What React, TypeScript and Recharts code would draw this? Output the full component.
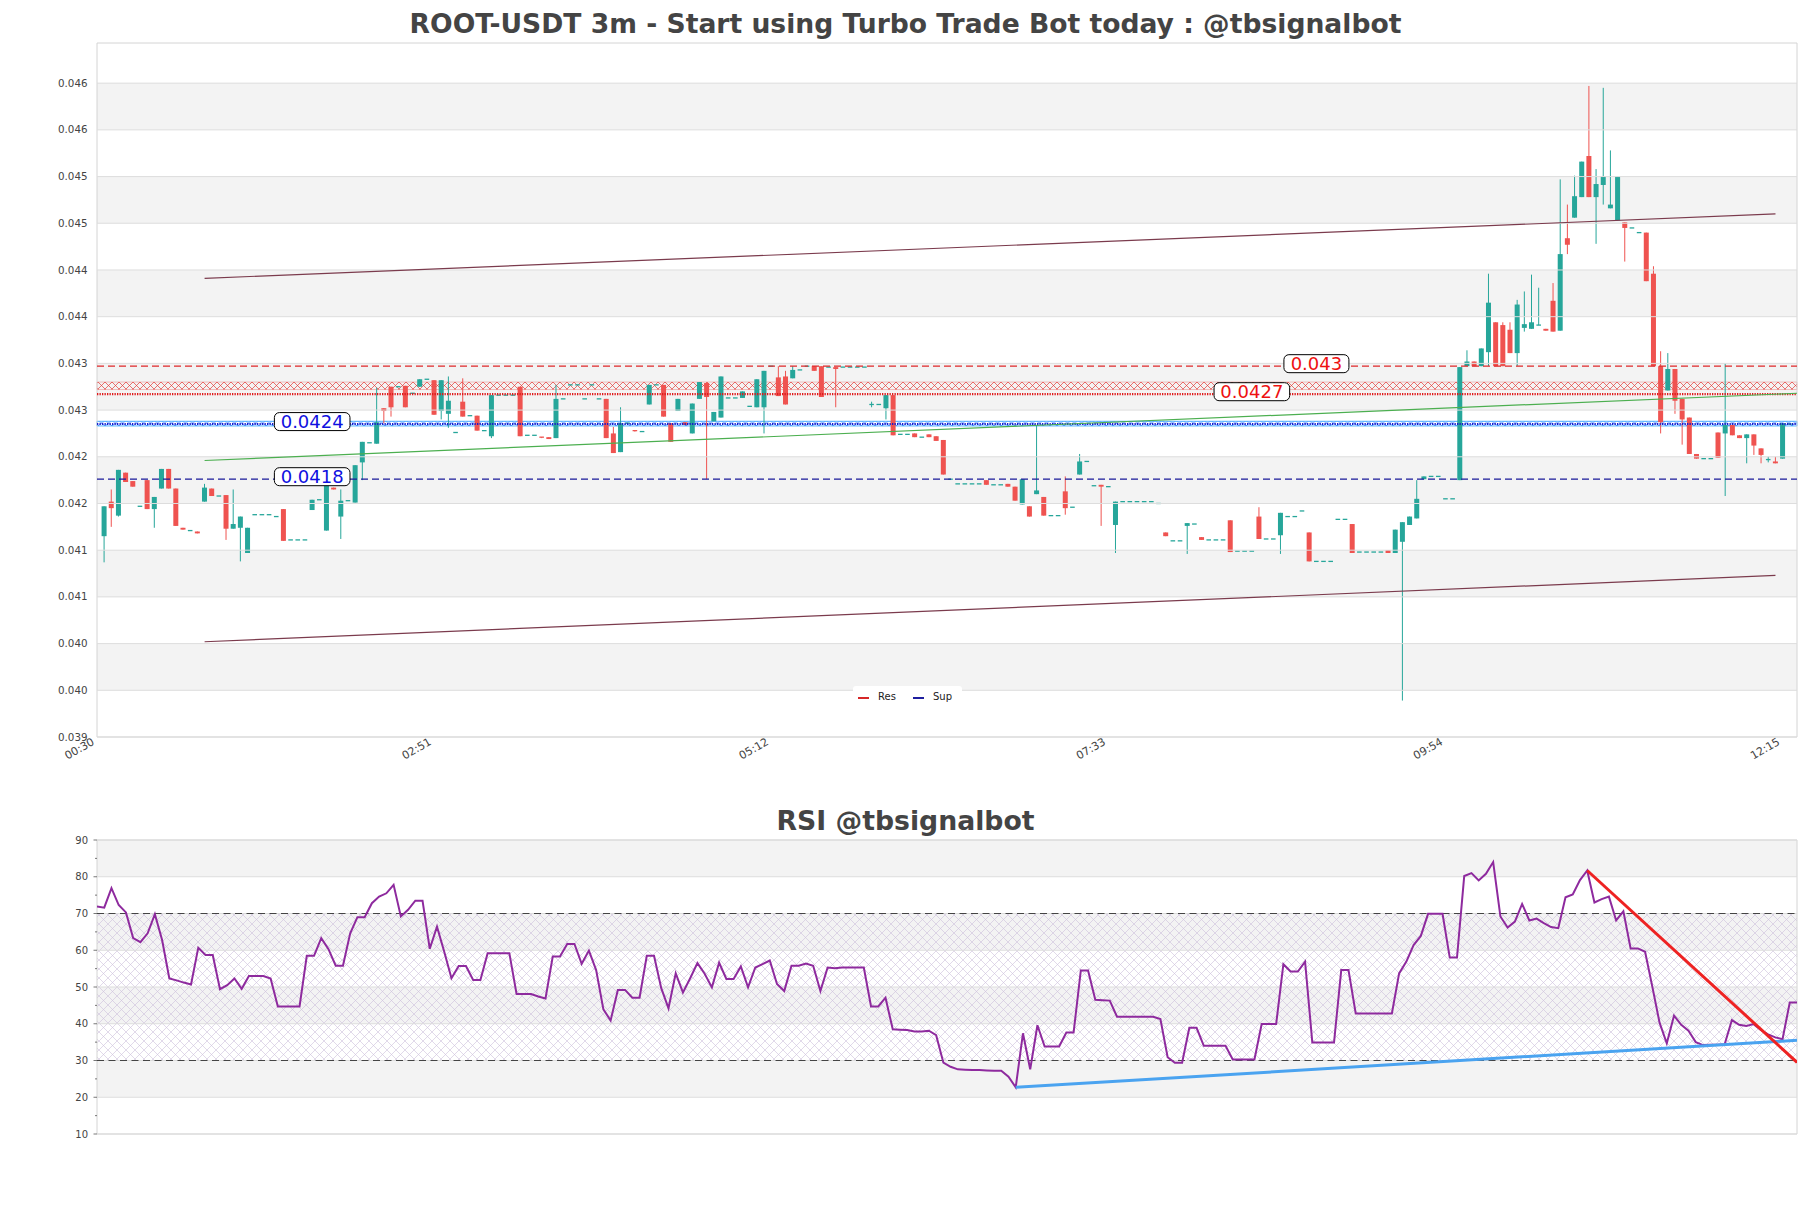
import React from 'react';
import { ComposedChart, Bar, Line, XAxis, YAxis, ReferenceLine, ReferenceArea, ReferenceDot } from 'recharts';

// candles: 3m ROOT-USDT, index 1..236 (00:33 .. 12:18)
const opens = [
  0.04115, 0.04152, 0.04137, 0.04183, 0.04174, 0.04147, 0.04175, 0.04144, 0.04166, 0.04187,
  0.04166, 0.04124, 0.04121, 0.04120, 0.04152, 0.04166, 0.04158, 0.04159, 0.04123, 0.04124,
  0.04097, 0.04138, 0.04138, 0.04138, 0.04136, 0.04144, 0.04111, 0.04111, 0.04111, 0.04143,
  0.04154, 0.04121, 0.04167, 0.04136, 0.04153, 0.04151, 0.04194, 0.04215, 0.04214, 0.04252,
  0.04275, 0.04275, 0.04276, 0.04268, 0.04275, 0.04283, 0.04282, 0.04249, 0.04246, 0.04226,
  0.04259, 0.04244, 0.04244, 0.04228, 0.04222, 0.04266, 0.04266, 0.04266, 0.04275, 0.04223,
  0.04223, 0.04221, 0.04221, 0.04220, 0.04262, 0.04277, 0.04277, 0.04262, 0.04277, 0.04262,
  0.04262, 0.04225, 0.04205, 0.04236, 0.04228, 0.04227, 0.04256, 0.04277, 0.04277, 0.04236,
  0.04249, 0.04237, 0.04225, 0.04262, 0.04279, 0.04238, 0.04242, 0.04263, 0.04263, 0.04263,
  0.04254, 0.04253, 0.04253, 0.04297, 0.04285, 0.04286, 0.04284, 0.04293, 0.04297, 0.04297,
  0.04297, 0.04296, 0.04296, 0.04296, 0.04296, 0.04296, 0.04296, 0.04256, 0.04256, 0.04252,
  0.04266, 0.04224, 0.04224, 0.04225, 0.04221, 0.04224, 0.04222, 0.04218, 0.04176, 0.04171,
  0.04171, 0.04171, 0.04171, 0.04175, 0.04170, 0.04170, 0.04171, 0.04168, 0.04149, 0.04147,
  0.04160, 0.04157, 0.04137, 0.04137, 0.04163, 0.04146, 0.04181, 0.04195, 0.04169, 0.04170,
  0.04168, 0.04127, 0.04152, 0.04152, 0.04152, 0.04152, 0.04152, 0.04150, 0.04119, 0.04110,
  0.04110, 0.04126, 0.04128, 0.04114, 0.04111, 0.04111, 0.04111, 0.04132, 0.04099, 0.04099,
  0.04099, 0.04136, 0.04112, 0.04112, 0.04116, 0.04136, 0.04136, 0.04142, 0.04119, 0.04088,
  0.04088, 0.04088, 0.04133, 0.04133, 0.04128, 0.04098, 0.04098, 0.04098, 0.04098, 0.04100,
  0.04097, 0.04109, 0.04127, 0.04134, 0.04176, 0.04179, 0.04179, 0.04155, 0.04155, 0.04175,
  0.04297, 0.04302, 0.04297, 0.04312, 0.04344, 0.04341, 0.04336, 0.04311, 0.04338, 0.04337,
  0.04341, 0.04337, 0.04367, 0.04335, 0.04434, 0.04456, 0.04478, 0.04522, 0.04478, 0.04491,
  0.04466, 0.04453, 0.04451, 0.04445, 0.04440, 0.04440, 0.04396, 0.04297, 0.04271, 0.04294,
  0.04262, 0.04242, 0.04203, 0.04198, 0.04198, 0.04226, 0.04225, 0.04234, 0.04223, 0.04220,
  0.04224, 0.04209, 0.04197, 0.04195, 0.04198, 0.04235,
];
const highs = [
  0.04147, 0.04165, 0.04186, 0.04183, 0.04174, 0.04147, 0.04175, 0.04157, 0.04187, 0.04187,
  0.04166, 0.04124, 0.04121, 0.04120, 0.04171, 0.04166, 0.04158, 0.04159, 0.04165, 0.04136,
  0.04124, 0.04138, 0.04138, 0.04138, 0.04136, 0.04144, 0.04111, 0.04111, 0.04111, 0.04154,
  0.04154, 0.04170, 0.04167, 0.04165, 0.04153, 0.04191, 0.04216, 0.04215, 0.04274, 0.04252,
  0.04275, 0.04275, 0.04276, 0.04268, 0.04283, 0.04283, 0.04282, 0.04282, 0.04286, 0.04226,
  0.04284, 0.04244, 0.04244, 0.04228, 0.04266, 0.04266, 0.04266, 0.04266, 0.04275, 0.04223,
  0.04223, 0.04221, 0.04221, 0.04277, 0.04262, 0.04277, 0.04277, 0.04262, 0.04277, 0.04262,
  0.04262, 0.04232, 0.04253, 0.04236, 0.04228, 0.04227, 0.04277, 0.04277, 0.04277, 0.04236,
  0.04262, 0.04237, 0.04257, 0.04280, 0.04279, 0.04248, 0.04286, 0.04263, 0.04263, 0.04270,
  0.04254, 0.04283, 0.04292, 0.04297, 0.04297, 0.04292, 0.04297, 0.04293, 0.04297, 0.04297,
  0.04297, 0.04296, 0.04296, 0.04296, 0.04296, 0.04296, 0.04296, 0.04259, 0.04256, 0.04266,
  0.04266, 0.04224, 0.04224, 0.04225, 0.04221, 0.04224, 0.04222, 0.04218, 0.04176, 0.04171,
  0.04171, 0.04171, 0.04171, 0.04175, 0.04170, 0.04170, 0.04171, 0.04168, 0.04176, 0.04147,
  0.04233, 0.04157, 0.04137, 0.04137, 0.04179, 0.04146, 0.04203, 0.04195, 0.04169, 0.04170,
  0.04168, 0.04152, 0.04152, 0.04152, 0.04152, 0.04152, 0.04152, 0.04150, 0.04119, 0.04110,
  0.04110, 0.04129, 0.04128, 0.04114, 0.04111, 0.04111, 0.04111, 0.04132, 0.04099, 0.04099,
  0.04099, 0.04146, 0.04112, 0.04112, 0.04140, 0.04136, 0.04136, 0.04142, 0.04119, 0.04088,
  0.04088, 0.04088, 0.04133, 0.04133, 0.04128, 0.04098, 0.04098, 0.04098, 0.04098, 0.04100,
  0.04122, 0.04130, 0.04136, 0.04175, 0.04179, 0.04179, 0.04179, 0.04155, 0.04155, 0.04296,
  0.04314, 0.04302, 0.04316, 0.04396, 0.04344, 0.04344, 0.04344, 0.04368, 0.04377, 0.04395,
  0.04381, 0.04337, 0.04386, 0.04497, 0.04470, 0.04501, 0.04516, 0.04597, 0.04508, 0.04595,
  0.04528, 0.04500, 0.04451, 0.04445, 0.04440, 0.04440, 0.04404, 0.04313, 0.04311, 0.04294,
  0.04262, 0.04242, 0.04203, 0.04198, 0.04198, 0.04226, 0.04300, 0.04234, 0.04223, 0.04224,
  0.04224, 0.04209, 0.04200, 0.04200, 0.04236, 0.04235,
];
const lows = [
  0.04087, 0.04125, 0.04136, 0.04173, 0.04168, 0.04147, 0.04144, 0.04124, 0.04166, 0.04166,
  0.04126, 0.04122, 0.04121, 0.04118, 0.04152, 0.04158, 0.04158, 0.04111, 0.04123, 0.04088,
  0.04097, 0.04138, 0.04138, 0.04138, 0.04136, 0.04110, 0.04111, 0.04111, 0.04111, 0.04143,
  0.04154, 0.04121, 0.04165, 0.04112, 0.04153, 0.04151, 0.04175, 0.04215, 0.04214, 0.04236,
  0.04243, 0.04275, 0.04253, 0.04268, 0.04275, 0.04283, 0.04245, 0.04240, 0.04231, 0.04226,
  0.04243, 0.04244, 0.04228, 0.04228, 0.04220, 0.04266, 0.04266, 0.04266, 0.04222, 0.04223,
  0.04223, 0.04220, 0.04219, 0.04220, 0.04262, 0.04277, 0.04277, 0.04262, 0.04277, 0.04262,
  0.04220, 0.04204, 0.04205, 0.04236, 0.04227, 0.04227, 0.04256, 0.04277, 0.04243, 0.04216,
  0.04249, 0.04234, 0.04225, 0.04262, 0.04176, 0.04238, 0.04242, 0.04263, 0.04263, 0.04263,
  0.04254, 0.04253, 0.04225, 0.04297, 0.04265, 0.04256, 0.04284, 0.04293, 0.04297, 0.04292,
  0.04264, 0.04296, 0.04253, 0.04296, 0.04296, 0.04296, 0.04296, 0.04253, 0.04256, 0.04240,
  0.04223, 0.04224, 0.04224, 0.04221, 0.04221, 0.04221, 0.04217, 0.04181, 0.04176, 0.04171,
  0.04171, 0.04171, 0.04171, 0.04170, 0.04170, 0.04170, 0.04168, 0.04153, 0.04149, 0.04136,
  0.04160, 0.04137, 0.04137, 0.04137, 0.04138, 0.04146, 0.04181, 0.04195, 0.04169, 0.04126,
  0.04168, 0.04097, 0.04152, 0.04152, 0.04152, 0.04152, 0.04152, 0.04150, 0.04115, 0.04110,
  0.04110, 0.04096, 0.04128, 0.04111, 0.04111, 0.04111, 0.04111, 0.04098, 0.04099, 0.04099,
  0.04099, 0.04112, 0.04112, 0.04112, 0.04096, 0.04136, 0.04136, 0.04142, 0.04088, 0.04088,
  0.04088, 0.04088, 0.04133, 0.04133, 0.04097, 0.04098, 0.04098, 0.04098, 0.04098, 0.04097,
  0.04097, 0.03939, 0.04127, 0.04134, 0.04176, 0.04179, 0.04179, 0.04155, 0.04155, 0.04175,
  0.04297, 0.04297, 0.04297, 0.04297, 0.04297, 0.04297, 0.04311, 0.04297, 0.04334, 0.04337,
  0.04341, 0.04335, 0.04334, 0.04335, 0.04417, 0.04456, 0.04478, 0.04478, 0.04428, 0.04470,
  0.04466, 0.04453, 0.04409, 0.04445, 0.04440, 0.04388, 0.04297, 0.04225, 0.04271, 0.04246,
  0.04213, 0.04203, 0.04198, 0.04198, 0.04198, 0.04199, 0.04158, 0.04223, 0.04220, 0.04193,
  0.04202, 0.04193, 0.04194, 0.04193, 0.04198, 0.04235,
];
const closes = [
  0.04147, 0.04145, 0.04186, 0.04173, 0.04168, 0.04147, 0.04144, 0.04157, 0.04187, 0.04166,
  0.04126, 0.04122, 0.04121, 0.04118, 0.04167, 0.04158, 0.04158, 0.04123, 0.04128, 0.04136,
  0.04124, 0.04138, 0.04138, 0.04138, 0.04136, 0.04110, 0.04111, 0.04111, 0.04111, 0.04154,
  0.04154, 0.04170, 0.04165, 0.04153, 0.04153, 0.04191, 0.04216, 0.04215, 0.04237, 0.04249,
  0.04253, 0.04275, 0.04253, 0.04268, 0.04283, 0.04283, 0.04245, 0.04282, 0.04260, 0.04226,
  0.04243, 0.04244, 0.04228, 0.04228, 0.04266, 0.04266, 0.04266, 0.04266, 0.04222, 0.04223,
  0.04223, 0.04220, 0.04219, 0.04262, 0.04262, 0.04277, 0.04277, 0.04262, 0.04277, 0.04262,
  0.04220, 0.04204, 0.04236, 0.04236, 0.04227, 0.04227, 0.04277, 0.04277, 0.04243, 0.04216,
  0.04262, 0.04234, 0.04257, 0.04280, 0.04264, 0.04248, 0.04286, 0.04263, 0.04263, 0.04270,
  0.04254, 0.04283, 0.04292, 0.04297, 0.04265, 0.04256, 0.04293, 0.04293, 0.04297, 0.04292,
  0.04264, 0.04296, 0.04294, 0.04296, 0.04296, 0.04296, 0.04296, 0.04256, 0.04256, 0.04266,
  0.04223, 0.04224, 0.04224, 0.04221, 0.04221, 0.04221, 0.04217, 0.04181, 0.04176, 0.04171,
  0.04171, 0.04171, 0.04171, 0.04170, 0.04170, 0.04170, 0.04168, 0.04153, 0.04176, 0.04136,
  0.04164, 0.04137, 0.04137, 0.04137, 0.04145, 0.04146, 0.04195, 0.04195, 0.04169, 0.04168,
  0.04168, 0.04152, 0.04152, 0.04152, 0.04152, 0.04152, 0.04152, 0.04150, 0.04115, 0.04110,
  0.04110, 0.04129, 0.04128, 0.04111, 0.04111, 0.04111, 0.04111, 0.04098, 0.04099, 0.04099,
  0.04099, 0.04112, 0.04112, 0.04112, 0.04140, 0.04136, 0.04136, 0.04142, 0.04088, 0.04088,
  0.04088, 0.04088, 0.04133, 0.04133, 0.04097, 0.04098, 0.04098, 0.04098, 0.04098, 0.04097,
  0.04122, 0.04130, 0.04136, 0.04155, 0.04179, 0.04179, 0.04179, 0.04155, 0.04155, 0.04296,
  0.04302, 0.04297, 0.04316, 0.04365, 0.04297, 0.04297, 0.04311, 0.04363, 0.04342, 0.04344,
  0.04341, 0.04335, 0.04334, 0.04417, 0.04427, 0.04479, 0.04516, 0.04478, 0.04492, 0.04500,
  0.04470, 0.04500, 0.04445, 0.04445, 0.04440, 0.04388, 0.04297, 0.04237, 0.04294, 0.04260,
  0.04240, 0.04203, 0.04198, 0.04198, 0.04198, 0.04199, 0.04234, 0.04223, 0.04220, 0.04224,
  0.04212, 0.04202, 0.04197, 0.04193, 0.04236, 0.04235,
];

// RSI for the same candles
const rsiValues = [
  71.9, 71.6, 76.9, 72.3, 70.3, 63.3, 62.2, 64.6, 69.8, 62.8,
  52.3, 51.8, 51.2, 50.7, 60.7, 58.7, 58.7, 49.4, 50.5, 52.3,
  49.5, 53.0, 53.0, 53.0, 52.3, 44.7, 44.7, 44.7, 44.7, 58.5,
  58.5, 63.3, 60.3, 55.8, 55.8, 64.6, 69.0, 69.0, 72.8, 74.6,
  75.5, 77.8, 69.2, 71.0, 73.5, 73.5, 60.4, 66.4, 59.6, 52.4,
  55.7, 55.7, 51.9, 51.9, 59.2, 59.2, 59.2, 59.2, 48.1, 48.1,
  48.1, 47.4, 46.9, 58.3, 58.3, 61.7, 61.7, 56.3, 59.9, 54.6,
  43.9, 40.9, 49.2, 49.2, 47.1, 47.1, 58.5, 58.5, 49.7, 44.2,
  53.7, 48.5, 52.4, 56.5, 53.6, 49.9, 56.6, 52.2, 52.2, 55.6,
  49.9, 55.3, 56.2, 57.2, 50.8, 48.9, 55.8, 55.8, 56.4, 55.8,
  48.9, 55.3, 55.1, 55.3, 55.3, 55.3, 55.3, 44.7, 44.7, 47.1,
  38.5, 38.4, 38.3, 37.9, 37.9, 38.1, 36.9, 29.4, 28.3, 27.6,
  27.5, 27.4, 27.4, 27.3, 27.2, 27.2, 25.6, 22.7, 37.4, 27.6,
  39.6, 33.8, 33.8, 33.8, 37.6, 37.6, 54.5, 54.5, 46.5, 46.4,
  46.3, 41.9, 41.9, 41.9, 41.9, 41.9, 41.9, 41.3, 30.9, 29.4,
  29.4, 38.9, 38.9, 34.0, 34.0, 34.0, 34.0, 30.3, 30.3, 30.3,
  30.3, 39.9, 39.9, 39.9, 56.2, 54.2, 54.2, 56.9, 34.9, 34.9,
  34.9, 34.9, 54.6, 54.6, 42.8, 42.8, 42.8, 42.8, 42.8, 42.8,
  53.7, 56.9, 61.4, 63.9, 69.9, 69.9, 69.9, 58.0, 58.0, 80.2,
  81.0, 79.0, 80.8, 84.0, 69.2, 66.2, 67.8, 72.6, 68.1, 68.6,
  67.4, 66.3, 66.0, 74.4, 75.2, 79.1, 81.7, 73.0, 73.9, 74.6,
  68.1, 70.6, 60.5, 60.5, 59.6, 50.1, 40.3, 34.7, 42.2, 39.7,
  38.1, 35.0, 34.2, 34.3, 34.3, 34.4, 41.0, 39.7, 39.4, 39.9,
  38.3, 37.1, 36.3, 35.8, 45.8, 45.8,
];

const timeTickIdx = [0, 47, 94, 141, 188, 235];
const timeTickLabels = ['00:30', '02:51', '05:12', '07:33', '09:54', '12:15'];
const priceTicks = [0.039, 0.0395, 0.04, 0.0405, 0.041, 0.0415, 0.042, 0.0425, 0.043, 0.0435, 0.044, 0.0445, 0.045, 0.0455, 0.046];
const priceTickLabels = ['0.039', '0.040', '0.040', '0.041', '0.041', '0.042', '0.042', '0.043', '0.043', '0.044', '0.044', '0.045', '0.045', '0.046', '0.046'];
const rsiTicks = [10, 15, 20, 25, 30, 35, 40, 45, 50, 55, 60, 65, 70, 75, 80, 85, 90];
const rsiTickLabels = ['10', '', '20', '', '30', '', '40', '', '50', '', '60', '', '70', '', '80', '', '90'];

// support / resistance levels
const resDashed = 0.04297;
const resBand = [0.04272, 0.0428];
const resDotted = 0.04267;
const supBand = [0.04233, 0.04238];
const supDotted = 0.04235;
const supDashed = 0.04176;

// channel and trend lines
const channelTop = [{ i: 15, v: 0.04391 }, { i: 234, v: 0.0446 }];
const channelBottom = [{ i: 15, v: 0.04002 }, { i: 234, v: 0.04073 }];
const midTrend = [{ i: 15, v: 0.04196 }, { i: 237, v: 0.04268 }];
const rsiSupport = [{ i: 128, v: 22.7 }, { i: 236, v: 35.5 }];
const rsiResist = [{ i: 207, v: 81.7 }, { i: 236, v: 29.5 }];

const TEAL = '#26a69a';
const RED = '#ef5350';
const X_MAX = 237;
const Y_MIN = 0.039;
const Y_MAX = 0.04643;

const candles = opens.map((o, k) => ({
  i: k + 1,
  open: o,
  high: highs[k],
  low: lows[k],
  close: closes[k],
  range: [lows[k], highs[k]],
}));
const rsiData = rsiValues.map((v, k) => ({ i: k + 1, v }));

const CandleShape = (props: any) => {
  const { x, y, width, height, payload } = props;
  if (x == null || y == null || !payload) return null;
  const { open, close, high, low } = payload;
  const color = close >= open ? TEAL : RED;
  const cx = x + width / 2;
  const top = height >= 0 ? y : y + height;
  const h = Math.abs(height);
  const span = high - low;
  const py = (v: number) => (span > 0 ? top + ((high - v) / span) * h : top);
  const bTop = py(Math.max(open, close));
  const bBot = py(Math.min(open, close));
  return (
    <g>
      {span > 0 && <line x1={cx} x2={cx} y1={top} y2={top + h} stroke={color} strokeWidth={1} />}
      {bBot - bTop >= 1 ? (
        <rect x={cx - 2.5} y={bTop} width={5} height={bBot - bTop} fill={color} />
      ) : (
        <line x1={cx - 2.3} x2={cx + 2.3} y1={bTop} y2={bTop} stroke={color} strokeWidth={1.3} />
      )}
    </g>
  );
};

const levelLabel = (text: string, color: string) => (props: any) => {
  const { cx, cy } = props;
  const w = text.length * 10.6 + 12;
  const mid = cy - 2.5;
  return (
    <g>
      <rect x={cx - w / 2} y={mid - 9} width={w} height={18} rx={5} fill="#fff" stroke="#000" strokeWidth={1} />
      <text x={cx} y={mid + 6.5} textAnchor="middle" fontSize={18} fill={color} fontFamily="DejaVu Sans">
        {text}
      </text>
    </g>
  );
};

const PriceTick = (props: any) => {
  const { x, y, payload } = props;
  const k = priceTicks.indexOf(payload.value);
  return (
    <text x={x - 9.5} y={y} dy={3.6} textAnchor="end" fontSize={10.3} fill="#444" fontFamily="DejaVu Sans">
      {priceTickLabels[k]}
    </text>
  );
};

const TimeTick = (props: any) => {
  const { x, y, payload } = props;
  const k = timeTickIdx.indexOf(payload.value);
  return (
    <text transform={`translate(${x - 2},${y + 7}) rotate(-30)`} textAnchor="end" fontSize={11} fill="#444" fontFamily="DejaVu Sans">
      {timeTickLabels[k]}
    </text>
  );
};

const RsiTick = (props: any) => {
  const { x, y, payload } = props;
  const k = rsiTicks.indexOf(payload.value);
  const label = rsiTickLabels[k];
  return (
    <g>
      <line x1={x - (label ? 3.5 : 2)} x2={x} y1={y} y2={y} stroke="#555" strokeWidth={0.8} />
      {label && (
        <text x={x - 9} y={y} dy={3.5} textAnchor="end" fontSize={10} fill="#444" fontFamily="DejaVu Sans">
          {label}
        </text>
      )}
    </g>
  );
};

const priceBands = priceTicks.slice(1, -1).filter((_, k) => k % 2 === 0).map((t, k) => [t, priceTicks[2 * k + 2]]);
const rsiBands = [[20, 30], [40, 50], [60, 70], [80, 90]];

export default function App() {
  return (
    <div style={{ position: 'absolute', left: 0, top: 0, width: 1811, height: 1208, background: '#fff', fontFamily: 'DejaVu Sans, sans-serif', overflow: 'hidden' }}>
      <div style={{ position: 'absolute', top: 8, left: 0, width: 1811, textAlign: 'center', fontSize: 26.6, fontWeight: 'bold', color: '#444' }}>
        ROOT-USDT 3m - Start using Turbo Trade Bot today : @tbsignalbot
      </div>

      <div style={{ position: 'absolute', top: 0, left: 0 }}>
        <ComposedChart width={1811} height={800} data={candles} margin={{ top: 43, right: 14, bottom: 33, left: 37 }}>
          <defs>
            <pattern id="resHatch" patternUnits="userSpaceOnUse" x="0" y="382" width="7" height="7">
              <path d="M0,0 L7,7 M7,0 L0,7" stroke="#e53935" strokeWidth={0.7} />
            </pattern>
            <pattern id="supHatch" patternUnits="userSpaceOnUse" x="0" y="420.5" width="7" height="5.5">
              <path d="M0,0 L7,5.5 M7,0 L0,5.5" stroke="#1565ff" strokeWidth={0.7} />
            </pattern>
          </defs>
          <XAxis dataKey="i" type="number" domain={[0, X_MAX]} ticks={timeTickIdx} interval={0} tick={TimeTick} tickLine={false} axisLine={false} tickSize={0} tickMargin={0} height={30} allowDataOverflow />
          <YAxis type="number" domain={[Y_MIN, Y_MAX]} ticks={priceTicks} interval={0} tick={PriceTick} tickLine={false} axisLine={false} tickSize={0} tickMargin={0} width={60} allowDataOverflow />
          {priceBands.map(([a, b]) => (
            <ReferenceArea key={'pb' + a} y1={a} y2={b} fill="#f3f3f3" fillOpacity={1} stroke="none" />
          ))}
          {priceTicks.map((t) => (
            <ReferenceLine key={'pg' + t} y={t} stroke="#dddddd" strokeWidth={1} />
          ))}
          <ReferenceArea y1={resBand[0]} y2={resBand[1]} fill="url(#resHatch)" fillOpacity={1} stroke="#e53935" strokeWidth={0.6} strokeOpacity={0.5} />
          <ReferenceArea y1={supBand[0]} y2={supBand[1]} fill="url(#supHatch)" fillOpacity={1} stroke="#2aa0ff" strokeWidth={0.8} />
          <ReferenceLine y={resDashed} stroke="#e0282a" strokeWidth={1.3} strokeDasharray="7 4" />
          <ReferenceLine y={resDotted} stroke="#e0181a" strokeWidth={2.2} strokeDasharray="1.3 1.2" />
          <ReferenceLine y={supDotted} stroke="#1a1acc" strokeWidth={2} strokeDasharray="1.3 1.2" />
          <ReferenceLine y={supDashed} stroke="#1a1a9a" strokeWidth={1.3} strokeDasharray="7 4" />
          <Line data={channelTop} dataKey="v" stroke="#7b3b4d" strokeWidth={1.2} dot={false} isAnimationActive={false} />
          <Line data={channelBottom} dataKey="v" stroke="#7b3b4d" strokeWidth={1.2} dot={false} isAnimationActive={false} />
          <Line data={midTrend} dataKey="v" stroke="#4caf50" strokeWidth={1.2} dot={false} isAnimationActive={false} />
          <Bar dataKey="range" barSize={5} shape={CandleShape} isAnimationActive={false} />
          <ReferenceDot x={30} y={supDotted} r={0} shape={levelLabel('0.0424', '#1010e0')} />
          <ReferenceDot x={30} y={supDashed} r={0} shape={levelLabel('0.0418', '#1010e0')} />
          <ReferenceDot x={170} y={resDashed} r={0} shape={levelLabel('0.043', '#ee1111')} />
          <ReferenceDot x={161} y={resDotted} r={0} shape={levelLabel('0.0427', '#ee1111')} />
          <ReferenceArea x1={0} x2={X_MAX} y1={Y_MIN} y2={Y_MAX} fill="none" stroke="#d4d4d4" strokeWidth={1} />
        </ComposedChart>
      </div>

      <div style={{ position: 'absolute', left: 853, top: 686, width: 109, height: 23, background: '#fff', borderRadius: 3, fontSize: 10, color: '#222' }}>
        <div style={{ position: 'absolute', left: 5, top: 10.5, width: 11, height: 2, background: '#d62728' }} />
        <div style={{ position: 'absolute', left: 25, top: 5 }}>Res</div>
        <div style={{ position: 'absolute', left: 60, top: 10.5, width: 11, height: 2, background: '#1f1f9f' }} />
        <div style={{ position: 'absolute', left: 80, top: 5 }}>Sup</div>
      </div>

      <div style={{ position: 'absolute', top: 805, left: 0, width: 1811, textAlign: 'center', fontSize: 26.7, fontWeight: 'bold', color: '#444' }}>
        RSI @tbsignalbot
      </div>

      <div style={{ position: 'absolute', top: 780, left: 0 }}>
        <ComposedChart width={1811} height={428} data={rsiData} margin={{ top: 60, right: 14, bottom: 74, left: 37 }}>
          <defs>
            <pattern id="rsiHatch" patternUnits="userSpaceOnUse" width="9" height="9">
              <path d="M0,0 L9,9 M9,0 L0,9" stroke="#cdbfdc" strokeWidth={0.6} />
            </pattern>
          </defs>
          <XAxis dataKey="i" type="number" domain={[1, 236]} hide allowDataOverflow />
          <YAxis type="number" domain={[10, 90]} ticks={rsiTicks} interval={0} tick={RsiTick} tickLine={false} axisLine={false} tickSize={0} tickMargin={0} width={60} allowDataOverflow />
          {rsiBands.map(([a, b]) => (
            <ReferenceArea key={'rb' + a} y1={a} y2={b} fill="#f3f3f3" fillOpacity={1} stroke="none" />
          ))}
          {rsiTicks.filter((t) => t % 10 === 0).map((t) => (
            <ReferenceLine key={'rg' + t} y={t} stroke="#dddddd" strokeWidth={1} />
          ))}
          <ReferenceArea y1={30} y2={70} fill="url(#rsiHatch)" fillOpacity={1} stroke="none" />
          <ReferenceLine y={70} stroke="#444" strokeWidth={1.2} strokeDasharray="7 4.5" />
          <ReferenceLine y={30} stroke="#444" strokeWidth={1.2} strokeDasharray="7 4.5" />
          <Line dataKey="v" stroke="#8e2a9e" strokeWidth={2} dot={false} isAnimationActive={false} />
          <Line data={rsiSupport} dataKey="v" stroke="#4aa3f0" strokeWidth={3} dot={false} isAnimationActive={false} />
          <Line data={rsiResist} dataKey="v" stroke="#ee2222" strokeWidth={3} dot={false} isAnimationActive={false} />
          <ReferenceArea x1={1} x2={236} y1={10} y2={90} fill="none" stroke="#d4d4d4" strokeWidth={1} />
        </ComposedChart>
      </div>
    </div>
  );
}
